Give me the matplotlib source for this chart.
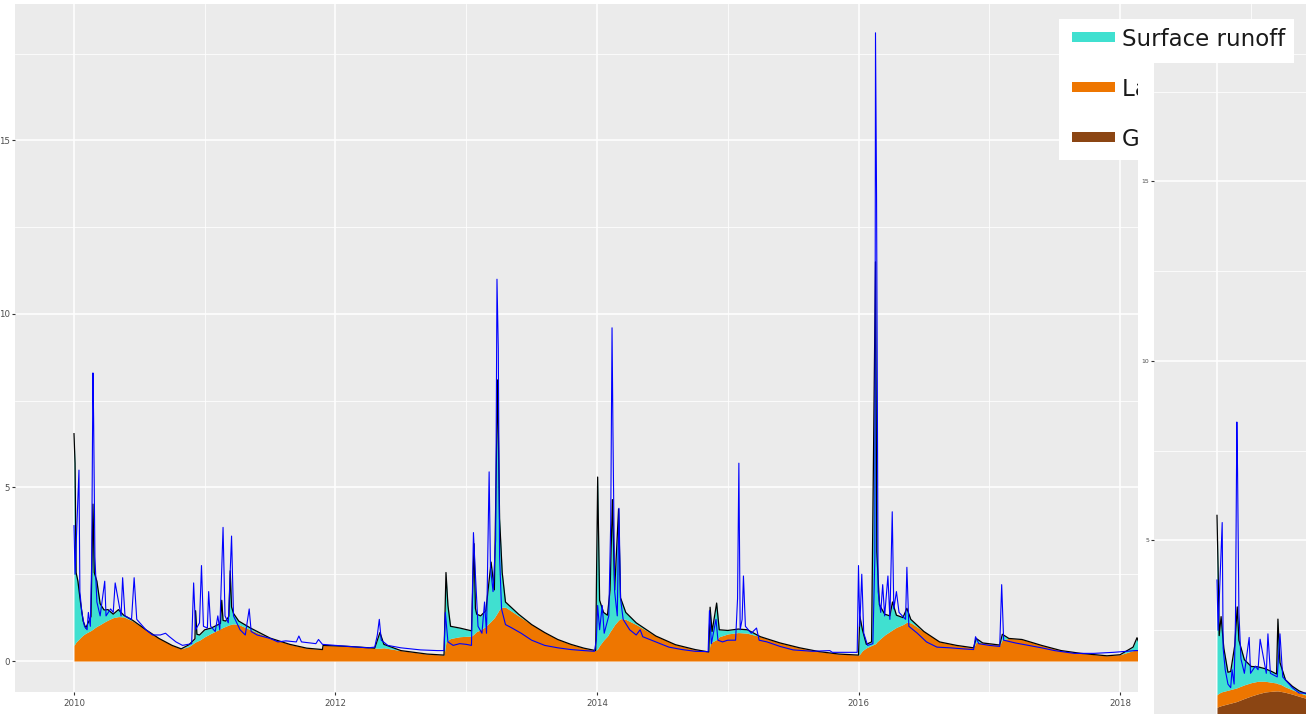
import numpy as np
import matplotlib
matplotlib.use("Agg")
import matplotlib.pyplot as plt
from matplotlib.patches import Rectangle

# ---------------- data ----------------
sim_year = [2010.000, 2010.008, 2010.016, 2010.030, 2010.050, 2010.070, 2010.090, 2010.130,
            2010.145, 2010.155, 2010.175, 2010.200, 2010.230, 2010.260, 2010.300, 2010.340,
            2010.380, 2010.450, 2010.550, 2010.650, 2010.750, 2010.820, 2010.880, 2010.925,
            2010.930, 2010.940, 2010.960, 2011.000, 2011.050, 2011.120, 2011.130, 2011.140,
            2011.160, 2011.185, 2011.195, 2011.205, 2011.220, 2011.260,
            2011.350, 2011.500, 2011.650, 2011.780, 2011.900, 2011.905, 2012.100, 2012.300,
            2012.340, 2012.370, 2012.500, 2012.700, 2012.830, 2012.845, 2012.860, 2012.880,
            2012.950, 2013.040, 2013.060, 2013.070, 2013.080, 2013.110, 2013.150, 2013.190, 2013.215,
            2013.240, 2013.255, 2013.275, 2013.300, 2013.400, 2013.500, 2013.600, 2013.700,
            2013.800, 2013.900, 2013.990, 2014.005, 2014.020, 2014.050, 2014.080, 2014.100,
            2014.118, 2014.135, 2014.165, 2014.180, 2014.220, 2014.300, 2014.450, 2014.600,
            2014.750, 2014.855, 2014.865, 2014.880, 2014.915, 2014.935, 2015.000, 2015.080,
            2015.150, 2015.250, 2015.400, 2015.550, 2015.700, 2015.850, 2016.000, 2016.010,
            2016.030, 2016.060, 2016.100, 2016.130, 2016.140, 2016.160, 2016.200, 2016.240,
            2016.260, 2016.290, 2016.340, 2016.370, 2016.400, 2016.500, 2016.620, 2016.750,
            2016.880, 2016.900, 2016.950, 2017.080, 2017.100, 2017.150, 2017.250, 2017.400,
            2017.550, 2017.700, 2017.900, 2018.000, 2018.100, 2018.130, 2018.160, 2018.400]
lateral_flow = [0.45, 0.50, 0.55, 0.60, 0.68, 0.75, 0.80, 0.88,
                0.92, 0.95, 1.00, 1.05, 1.12, 1.18, 1.25, 1.28,
                1.27, 1.15, 0.90, 0.65, 0.45, 0.35, 0.42, 0.54,
                0.55, 0.57, 0.60, 0.70, 0.80, 0.93, 0.95, 0.97,
                1.00, 1.04, 1.05, 1.06, 1.07, 1.05,
                0.90, 0.66, 0.48, 0.37, 0.33, 0.45, 0.42, 0.37,
                0.37, 0.38, 0.30, 0.20, 0.17, 0.55, 0.60, 0.65,
                0.70, 0.72, 0.78, 0.82, 0.85, 0.90, 1.00, 1.15, 1.25,
                1.40, 1.50, 1.55, 1.55, 1.30, 1.05, 0.82, 0.62,
                0.48, 0.37, 0.30, 0.35, 0.45, 0.60, 0.72, 0.85,
                0.95, 1.05, 1.18, 1.22, 1.20, 1.05, 0.72, 0.47,
                0.33, 0.26, 0.50, 0.55, 0.62, 0.70, 0.78, 0.82,
                0.80, 0.70, 0.52, 0.38, 0.27, 0.20, 0.17, 0.20,
                0.30, 0.38, 0.45, 0.50, 0.55, 0.62, 0.75, 0.85,
                0.90, 0.97, 1.05, 1.12, 1.10, 0.85, 0.55, 0.45,
                0.38, 0.55, 0.52, 0.46, 0.62, 0.65, 0.62, 0.45,
                0.30, 0.22, 0.15, 0.18, 0.30, 0.32, 0.34, 0.30]
surface_runoff = [6.10, 5.20, 2.00, 1.70, 1.00, 0.40, 0.15, 0.40,
                  3.60, 1.60, 1.30, 0.60, 0.35, 0.30, 0.10, 0.20,
                  0.05, 0.02, 0.00, 0.00, 0.00, 0.00, 0.05, 0.10,
                  0.90, 0.20, 0.15, 0.20, 0.15, 0.15, 0.80, 0.20,
                  0.15, 0.25, 1.55, 0.50, 0.30, 0.10,
                  0.05, 0.00, 0.00, 0.00, 0.00, 0.00, 0.00, 0.00,
                  0.45, 0.10, 0.00, 0.00, 0.00, 2.00, 1.00, 0.35,
                  0.25, 0.15, 2.60, 0.70, 0.50, 0.40, 0.45, 1.70, 0.80,
                  6.70, 2.60, 1.00, 0.15, 0.05, 0.00, 0.00, 0.00,
                  0.00, 0.00, 0.00, 4.95, 1.30, 0.80, 0.60, 1.20,
                  3.70, 1.00, 3.20, 0.60, 0.20, 0.05, 0.00, 0.00,
                  0.00, 0.00, 1.05, 0.30, 1.05, 0.20, 0.10, 0.10,
                  0.10, 0.00, 0.00, 0.00, 0.00, 0.00, 0.00, 1.10,
                  0.60, 0.10, 0.10, 11.00, 2.60, 1.00, 0.60, 0.45,
                  0.80, 0.35, 0.20, 0.40, 0.10, 0.00, 0.00, 0.00,
                  0.00, 0.10, 0.00, 0.00, 0.15, 0.00, 0.00, 0.00,
                  0.00, 0.00, 0.00, 0.00, 0.10, 0.35, 0.05, 0.00]

obs_year = [2010.000, 2010.008, 2010.038, 2010.045, 2010.060, 2010.080, 2010.100, 2010.110,
            2010.125, 2010.135, 2010.145, 2010.150, 2010.160, 2010.175, 2010.200, 2010.235,
            2010.245, 2010.280, 2010.300, 2010.315, 2010.360, 2010.372, 2010.390, 2010.440,
            2010.460, 2010.480, 2010.550, 2010.600, 2010.660, 2010.700, 2010.730, 2010.780,
            2010.830, 2010.900, 2010.915, 2010.930, 2010.960, 2010.975, 2010.990, 2011.020,
            2011.030, 2011.045, 2011.080, 2011.100, 2011.115, 2011.140, 2011.155, 2011.180,
            2011.205, 2011.220, 2011.270, 2011.310, 2011.340, 2011.355, 2011.400, 2011.500,
            2011.560, 2011.620, 2011.700, 2011.720, 2011.740, 2011.850, 2011.870, 2011.900,
            2012.000, 2012.100, 2012.250, 2012.300, 2012.320, 2012.335, 2012.350, 2012.400,
            2012.500, 2012.650, 2012.780, 2012.830, 2012.840, 2012.860, 2012.900, 2012.950,
            2013.000, 2013.040, 2013.055, 2013.070, 2013.090, 2013.120, 2013.140, 2013.155,
            2013.175, 2013.185, 2013.205, 2013.225, 2013.235, 2013.245, 2013.255, 2013.270,
            2013.300, 2013.350, 2013.420, 2013.500, 2013.600, 2013.700, 2013.800, 2013.900,
            2013.980, 2013.995, 2014.005, 2014.020, 2014.040, 2014.055, 2014.090, 2014.105,
            2014.115, 2014.122, 2014.135, 2014.155, 2014.168, 2014.180, 2014.200, 2014.250,
            2014.300, 2014.330, 2014.350, 2014.450, 2014.550, 2014.650, 2014.750, 2014.850,
            2014.860, 2014.875, 2014.910, 2014.925, 2014.960, 2015.000, 2015.060, 2015.075,
            2015.085, 2015.095, 2015.110, 2015.120, 2015.135, 2015.180, 2015.220, 2015.240,
            2015.300, 2015.400, 2015.500, 2015.650, 2015.780, 2015.800, 2015.900, 2015.990,
            2016.000, 2016.010, 2016.025, 2016.040, 2016.070, 2016.110, 2016.125, 2016.130,
            2016.138, 2016.150, 2016.170, 2016.185, 2016.200, 2016.225, 2016.240, 2016.258,
            2016.270, 2016.290, 2016.310, 2016.360, 2016.370, 2016.385, 2016.450, 2016.520,
            2016.600, 2016.700, 2016.800, 2016.880, 2016.895, 2016.920, 2017.000, 2017.080,
            2017.095, 2017.110, 2017.200, 2017.300, 2017.400, 2017.500, 2017.650, 2017.800,
            2017.950, 2018.050, 2018.120, 2018.300]
obs_flow = [3.90, 2.50, 5.50, 2.00, 1.40, 1.00, 0.90, 1.40,
            1.00, 2.80, 8.30, 7.00, 3.00, 1.70, 1.30, 2.30,
            1.30, 1.50, 1.40, 2.25, 1.30, 2.40, 1.30, 1.20,
            2.40, 1.20, 0.90, 0.75, 0.75, 0.80, 0.70, 0.55,
            0.45, 0.50, 2.25, 0.90, 1.10, 2.75, 1.00, 0.95,
            2.00, 1.00, 0.85, 1.30, 0.90, 3.85, 1.30, 1.10,
            3.60, 1.30, 0.90, 0.75, 1.50, 0.85, 0.75, 0.65,
            0.55, 0.58, 0.55, 0.72, 0.55, 0.50, 0.62, 0.48,
            0.45, 0.42, 0.38, 0.40, 0.75, 1.20, 0.60, 0.45,
            0.38, 0.32, 0.30, 0.30, 1.40, 0.55, 0.45, 0.50,
            0.48, 0.45, 3.70, 2.50, 1.00, 0.80, 1.70, 0.80,
            5.45, 2.70, 2.00, 3.50, 11.00, 9.00, 3.00, 1.50,
            1.05, 0.95, 0.80, 0.60, 0.45, 0.38, 0.33, 0.30,
            0.28, 0.60, 1.60, 0.90, 1.60, 0.80, 1.30, 4.00,
            9.60, 6.60, 2.00, 1.30, 4.40, 1.80, 1.20, 0.90,
            0.75, 0.90, 0.70, 0.55, 0.40, 0.33, 0.28, 0.27,
            1.45, 0.50, 1.20, 0.60, 0.55, 0.60, 0.60, 1.80,
            5.70, 0.90, 1.20, 2.45, 1.00, 0.80, 0.95, 0.60,
            0.55, 0.42, 0.32, 0.28, 0.30, 0.25, 0.25, 0.25,
            2.75, 1.00, 2.50, 0.80, 0.45, 0.50, 3.00, 18.10,
            13.40, 2.00, 1.40, 2.20, 1.30, 2.45, 1.20, 4.30,
            1.50, 2.00, 1.40, 1.20, 2.70, 1.00, 0.80, 0.55,
            0.40, 0.38, 0.35, 0.33, 0.70, 0.50, 0.45, 0.42,
            2.20, 0.60, 0.52, 0.45, 0.38, 0.30, 0.22, 0.22,
            0.25, 0.28, 0.30, 0.30]

inset_year = [2010.000, 2010.008, 2010.016, 2010.030, 2010.050, 2010.080, 2010.100, 2010.130,
              2010.148, 2010.160, 2010.200, 2010.250, 2010.300, 2010.350, 2010.400, 2010.435,
              2010.445, 2010.460, 2010.500, 2010.550, 2010.600, 2010.700]
inset_groundwater = [0.35, 0.37, 0.38, 0.40, 0.42, 0.45, 0.47, 0.50,
                     0.52, 0.54, 0.60, 0.67, 0.73, 0.78, 0.80, 0.81,
                     0.81, 0.80, 0.77, 0.72, 0.66, 0.55]
inset_lateral = [0.35, 0.36, 0.37, 0.38, 0.38, 0.38, 0.38, 0.38,
                 0.38, 0.38, 0.38, 0.37, 0.35, 0.30, 0.25, 0.22,
                 0.20, 0.20, 0.15, 0.12, 0.10, 0.08]
inset_surface = [5.00, 3.50, 1.60, 2.10, 1.20, 0.50, 0.50, 1.20,
                 2.25, 1.30, 0.70, 0.45, 0.40, 0.35, 0.30, 0.25,
                 1.80, 0.60, 0.20, 0.10, 0.05, 0.03]

legend_labels = ["Surface runoff", "Lateral flow", "Groundwater"]

# ---------------- style ----------------
C_SURF = "#40E0D0"
C_LAT = "#EE7600"
C_GW = "#8B4513"
PANEL = "#EBEBEB"

W, H = 1306, 714
fig = plt.figure(figsize=(W / 100, H / 100), dpi=100)
fig.patch.set_facecolor("white")


def rect(left, top, right, bottom):
    return [left / W, 1 - bottom / H, (right - left) / W, (bottom - top) / H]


def gg_axes(ax, fs, tlen):
    ax.set_facecolor(PANEL)
    for s in ax.spines.values():
        s.set_visible(False)
    ax.grid(which="major", color="white", lw=1.1)
    ax.grid(which="minor", color="white", lw=0.55)
    ax.set_axisbelow(True)
    ax.tick_params(which="major", length=tlen, width=0.8, color="#333333",
                   labelcolor="#4D4D4D", labelsize=fs, pad=1.2)
    ax.tick_params(which="minor", length=0)


# ---------------- main panel ----------------
ax = fig.add_axes(rect(15, 4, 1306, 692), zorder=1)
gg_axes(ax, 6.2, 2.2)
ax.set_xlim(2009.5488, 2019.4225)
ax.set_ylim(-0.893, 18.93)
ax.set_yticks([0, 5, 10, 15])
ax.set_yticklabels(["0", "5", "10", "15"])
ax.set_yticks([2.5, 7.5, 12.5, 17.5], minor=True)
ax.set_xticks([2010, 2012, 2014, 2016, 2018])
ax.set_xticklabels(["2010", "2012", "2014", "2016", "2018"])
ax.set_xticks([2011, 2013, 2015, 2017, 2019], minor=True)
ax.tick_params(axis="x", pad=2.5)

t = np.array(sim_year)
lat = np.array(lateral_flow)
tot = lat + np.array(surface_runoff)
ax.fill_between(t, 0, lat, color=C_LAT, lw=0, zorder=2)
ax.fill_between(t, lat, tot, color=C_SURF, lw=0, zorder=2)
ax.plot(t, tot, color="black", lw=0.9, zorder=3)
ax.plot(obs_year, obs_flow, color="blue", lw=0.8, zorder=4)

# ---------------- legend box ----------------
lg = fig.add_axes(rect(1059, 19, 1294, 160), zorder=2)
lg.set_facecolor("white")
for s in lg.spines.values():
    s.set_visible(False)
lg.set_xticks([])
lg.set_yticks([])
lg.set_xlim(0, 235)
lg.set_ylim(141, 0)
for i, (lab, col) in enumerate(zip(legend_labels, [C_SURF, C_LAT, C_GW])):
    y0 = 13 + 50 * i
    lg.add_patch(Rectangle((13, y0), 43, 10, facecolor=col, edgecolor="none"))
    lg.text(63, y0 + 13.5, lab, fontsize=16.5, color="#1A1A1A", va="baseline", ha="left")

# ---------------- second (cropped) panel ----------------
strip = fig.add_axes(rect(1138, 63, 1306, 714), zorder=3)
strip.set_facecolor("white")
strip.set_xticks([])
strip.set_yticks([])
for s in strip.spines.values():
    s.set_visible(False)

ax2 = fig.add_axes(rect(1154, 63, 1306, 714), zorder=4)
gg_axes(ax2, 4.4, 2.2)
ax2.set_xlim(2009.54, 2010.65)
ax2.set_ylim(0.167, 18.30)
ax2.set_yticks([5, 10, 15])
ax2.set_yticklabels(["5", "10", "15"])
ax2.set_yticks([2.5, 7.5, 12.5, 17.5], minor=True)
ax2.set_xticks([2010])
ax2.tick_params(axis="x", labelbottom=False, length=0)

t2 = np.array(inset_year)
gw = np.array(inset_groundwater)
l2 = gw + np.array(inset_lateral)
s2 = l2 + np.array(inset_surface)
ax2.fill_between(t2, 0, gw, color=C_GW, lw=0, zorder=2)
ax2.fill_between(t2, gw, l2, color=C_LAT, lw=0, zorder=2)
ax2.fill_between(t2, l2, s2, color=C_SURF, lw=0, zorder=2)
ax2.plot(t2, s2, color="black", lw=0.9, zorder=3)
ax2.plot(obs_year, obs_flow, color="blue", lw=0.8, zorder=4)

fig.savefig("out.png", dpi=100)
